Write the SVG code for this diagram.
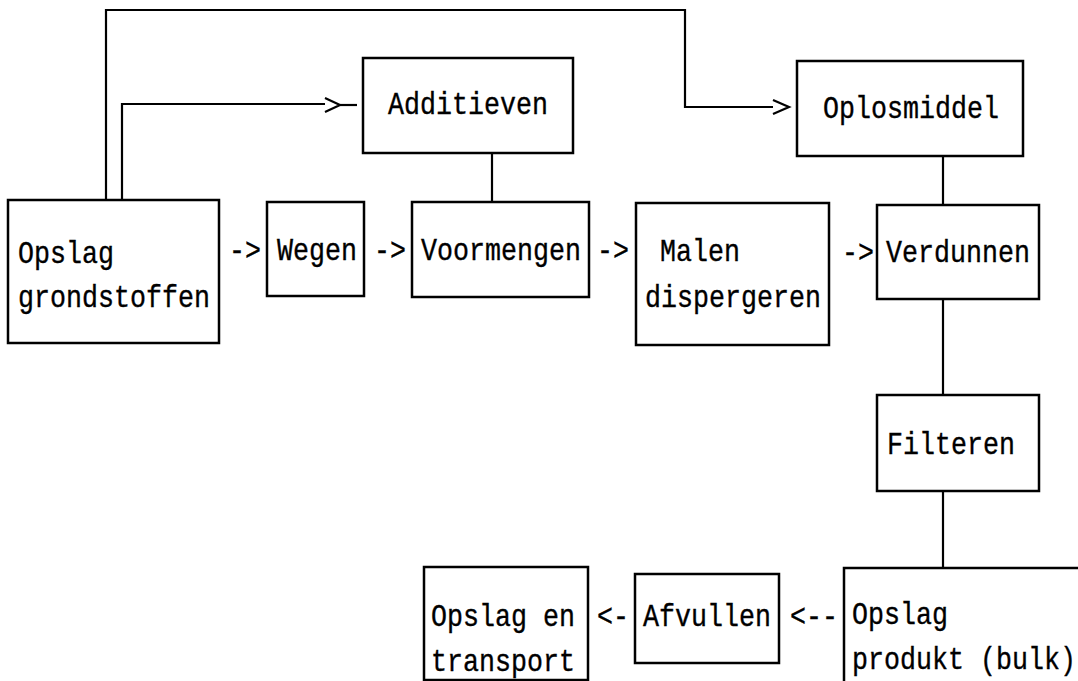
<svg xmlns="http://www.w3.org/2000/svg" width="1078" height="681" viewBox="0 0 1078 681">
<style>
.box{fill:#fff;stroke:#000;stroke-width:2.5}
.ln{fill:none;stroke:#000;stroke-width:2.2}
.t{font-family:"Liberation Mono","Courier New",monospace;font-size:26.67px;fill:#000;stroke:#000;stroke-width:0.3}
</style>
<rect width="1078" height="681" fill="#fff"/>
<g id="connectors">
<polyline class="ln" points="106,200 106,10 685,10 685,107 773,107"/>
<polyline class="ln" points="773,100 789,107 773,114"/>
<polyline class="ln" points="122,200 122,104 325,104"/>
<polyline class="ln" points="325,98 340,105 325,112"/>
<line class="ln" x1="340" y1="105" x2="357" y2="105"/>
<line class="ln" x1="492" y1="153" x2="492" y2="202"/>
<line class="ln" x1="943" y1="156" x2="943" y2="205"/>
<line class="ln" x1="943" y1="299" x2="943" y2="395"/>
<line class="ln" x1="943" y1="491" x2="943" y2="568"/>
<text class="t" transform="translate(229 260) scale(1 1.2)">-&gt;</text>
<text class="t" transform="translate(374 260) scale(1 1.2)">-&gt;</text>
<text class="t" transform="translate(597 260) scale(1 1.2)">-&gt;</text>
<text class="t" transform="translate(842 262) scale(1 1.2)">-&gt;</text>
<text class="t" transform="translate(597 626) scale(1 1.2)">&lt;-</text>
<text class="t" transform="translate(790 626) scale(1 1.2)">&lt;--</text>
</g>
<g id="opslag-grondstoffen">
<rect class="box" x="8" y="200" width="211" height="143"/>
<text class="t" transform="translate(18 263) scale(1 1.2)">Opslag</text>
<text class="t" transform="translate(18 307) scale(1 1.2)">grondstoffen</text>
</g>
<g id="wegen">
<rect class="box" x="267" y="202" width="97" height="94"/>
<text class="t" transform="translate(277 260) scale(1 1.2)">Wegen</text>
</g>
<g id="voormengen">
<rect class="box" x="412" y="202" width="177" height="95"/>
<text class="t" transform="translate(421 260) scale(1 1.2)">Voormengen</text>
</g>
<g id="additieven">
<rect class="box" x="363" y="58" width="210" height="95"/>
<text class="t" transform="translate(388 114) scale(1 1.2)">Additieven</text>
</g>
<g id="malen">
<rect class="box" x="636" y="203" width="193" height="142"/>
<text class="t" transform="translate(660 261) scale(1 1.2)">Malen</text>
<text class="t" transform="translate(645 307) scale(1 1.2)">dispergeren</text>
</g>
<g id="oplosmiddel">
<rect class="box" x="797" y="61" width="226" height="95"/>
<text class="t" transform="translate(823 118) scale(1 1.2)">Oplosmiddel</text>
</g>
<g id="verdunnen">
<rect class="box" x="877" y="205" width="162" height="94"/>
<text class="t" transform="translate(886 262) scale(1 1.2)">Verdunnen</text>
</g>
<g id="filteren">
<rect class="box" x="877" y="395" width="162" height="96"/>
<text class="t" transform="translate(887 454) scale(1 1.2)">Filteren</text>
</g>
<g id="opslag-produkt">
<rect class="box" x="844" y="568" width="300" height="200"/>
<text class="t" transform="translate(852 624) scale(1 1.2)">Opslag</text>
<text class="t" transform="translate(852 669) scale(1 1.2)">produkt (bulk)</text>
</g>
<g id="afvullen">
<rect class="box" x="635" y="574" width="144" height="89"/>
<text class="t" transform="translate(643 626) scale(1 1.2)">Afvullen</text>
</g>
<g id="opslag-transport">
<rect class="box" x="424" y="567" width="164" height="113"/>
<text class="t" transform="translate(431 626) scale(1 1.2)">Opslag en</text>
<text class="t" transform="translate(431 671) scale(1 1.2)">transport</text>
</g>
</svg>
